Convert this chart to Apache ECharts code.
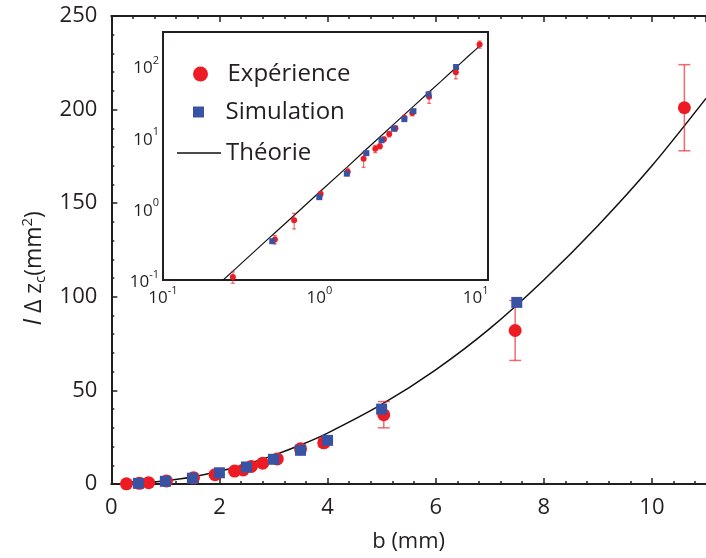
<!DOCTYPE html>
<html><head><meta charset="utf-8">
<script src="https://cdn.jsdelivr.net/npm/echarts@6.0.0/dist/echarts.min.js"></script>
<style>html,body{margin:0;padding:0;background:#fff}#c{width:706px;height:558px}</style>
</head><body><div id="c"></div>
<script>
// ---- data ----
const expB   = [0.28, 0.52, 0.69, 1.02, 1.52, 1.92, 2.28, 2.44, 2.59, 2.80, 3.07, 3.50, 3.93, 5.04, 7.47, 10.6];
const expY   = [0.11, 0.37, 0.69, 1.6,  3.3,  5.0,  6.9,  7.5,  9.4,  11.1, 13.4, 18.8, 22,   37,   82,   201];
const expErr = [0.02, 0.05, 0.17, 0.15, 0.4,  1.2,  0.8,  0.6,  0.7,  1.0,  1.2,  1.5,  2.0,  7,    16,   23];
const simB   = [0.5, 1.0, 1.5, 2.0, 2.5, 3.0, 3.5, 4.0, 5.0, 7.5];
const simY   = [0.35, 1.45, 3.1, 6.0, 9.1, 13.2, 18.0, 23.3, 40, 97];
const theoryB = [0.2, 0.3, 0.5, 0.7, 1, 1.5, 2, 2.5, 3, 3.5, 4, 5, 6, 7, 8, 9, 10, 11];
const theoryY = [0.068, 0.153, 0.425, 0.83, 1.7, 3.8, 6.8, 10.6, 15.3, 20.8, 27.2, 42.5, 61, 83, 109, 138, 170, 206];
// tick values
const mainXMinor = [0.4,0.8,1.2,1.6,2.4,2.8,3.2,3.6,4.4,4.8,5.2,5.6,6.4,6.8,7.2,7.6,8.4,8.8,9.2,9.6,10.4,10.8];
const mainYMinor = [10,20,30,40,60,70,80,90,110,120,130,140,160,170,180,190,210,220,230,240];
const insetXLabels = [0.1, 1, 10];
const insetYLabels = [0.1, 1, 10, 100];
const insetXTicks = [0.2,0.3,0.4,0.5,0.6,0.7,0.8,0.9,1,2,3,4,5,6,7,8,9,10];
const insetYTicks = [0.2,0.3,0.4,0.5,0.6,0.7,0.8,0.9,1,2,3,4,5,6,7,8,9,10,20,30,40,50,60,70,80,90,100,200];

const FONT = 'Open Sans';
const TXT = '#231f20';
const RED = '#ed1c24';
const BLUE = '#3953a4';
const ERR = 'rgba(237,28,36,0.65)';

const expData = expB.map((b, i) => [b, expY[i]]);
const errData = expB.map((b, i) => [b, expY[i] - expErr[i], expY[i] + expErr[i]]);
const simData = simB.map((b, i) => [b, simY[i]]);
const theoData = theoryB.map((b, i) => [b, theoryY[i]]);

function errRender(cap, lw) {
  return function (params, api) {
    const x = api.value(0), lo = api.value(1), hi = api.value(2);
    const p1 = api.coord([x, lo]), p2 = api.coord([x, hi]);
    const st = { stroke: ERR, lineWidth: lw };
    return { type: 'group', children: [
      { type: 'line', shape: { x1: p1[0], y1: p1[1], x2: p2[0], y2: p2[1] }, style: st },
      { type: 'line', shape: { x1: p1[0] - cap, y1: p1[1], x2: p1[0] + cap, y2: p1[1] }, style: st },
      { type: 'line', shape: { x1: p2[0] - cap, y1: p2[1], x2: p2[0] + cap, y2: p2[1] }, style: st }
    ]};
  };
}

function pow10Label(v) {
  const e = Math.round(Math.log10(v));
  return '{b|10}{s|' + e + '}';
}
const powRich = {
  b: { fontSize: 17, fontFamily: FONT, color: TXT, lineHeight: 22, verticalAlign: 'bottom' },
  s: { fontSize: 11, fontFamily: FONT, color: TXT, lineHeight: 12, verticalAlign: 'top' }
};

const lineAx = { show: true, lineStyle: { color: TXT, width: 2 } };
const noLine = { show: false };
const legText = { fontSize: 24, fontFamily: FONT, color: TXT, lineHeight: 26 };

const option = {
  backgroundColor: '#fff',
  animation: false,
  grid: [
    { left: 111.3, top: 16, width: 599.5, height: 468, show: false },
    { left: 163, top: 32, width: 325, height: 248, show: true, backgroundColor: '#fff', borderColor: TXT, borderWidth: 2, z: 5 }
  ],
  xAxis: [
    { gridIndex: 0, type: 'value', min: 0, max: 11, interval: 2, position: 'bottom',
      axisLine: lineAx, splitLine: { show: false },
      axisTick: { inside: true, length: 6, lineStyle: { color: TXT, width: 1.5 } },
      axisLabel: { fontSize: 22, fontFamily: FONT, color: TXT, margin: 13, showMaxLabel: false },
      name: 'b (mm)', nameLocation: 'middle', nameGap: 47,
      nameTextStyle: { fontSize: 22, fontFamily: FONT, color: TXT } },
    { gridIndex: 0, type: 'value', min: 0, max: 11, position: 'bottom', axisLine: noLine, splitLine: { show: false },
      axisLabel: { show: false }, axisTick: { inside: true, length: 3, customValues: mainXMinor, lineStyle: { color: TXT, width: 1.5 } } },
    { gridIndex: 0, type: 'value', min: 0, max: 11, interval: 2, position: 'top', axisLine: lineAx, splitLine: { show: false },
      axisLabel: { show: false }, axisTick: { inside: true, length: 6, lineStyle: { color: TXT, width: 1.5 } } },
    { gridIndex: 0, type: 'value', min: 0, max: 11, position: 'top', axisLine: noLine, splitLine: { show: false },
      axisLabel: { show: false }, axisTick: { inside: true, length: 3, customValues: mainXMinor, lineStyle: { color: TXT, width: 1.5 } } },
    // inset
    { gridIndex: 1, type: 'log', logBase: 10, min: 0.1, max: 12, position: 'bottom', axisLine: noLine, splitLine: { show: false },
      axisTick: { inside: true, length: 3, customValues: insetXTicks, lineStyle: { color: TXT, width: 1 } },
      axisLabel: { customValues: insetXLabels, formatter: pow10Label, rich: powRich, margin: 5 } },
    { gridIndex: 1, type: 'log', logBase: 10, min: 0.1, max: 12, position: 'top', axisLine: noLine, splitLine: { show: false },
      axisTick: { inside: true, length: 3, customValues: insetXTicks, lineStyle: { color: TXT, width: 1 } },
      axisLabel: { show: false } }
  ],
  yAxis: [
    { gridIndex: 0, type: 'value', min: 0, max: 250, interval: 50, position: 'left',
      axisLine: lineAx, splitLine: { show: false },
      axisTick: { inside: true, length: 6, lineStyle: { color: TXT, width: 1.5 } },
      axisLabel: { fontSize: 22, fontFamily: FONT, color: TXT, margin: 14 },
      name: '{i|l} Δ z{sub|c}(mm{sup|2})', nameLocation: 'middle', nameGap: 58,
      nameTextStyle: { fontSize: 23, fontFamily: FONT, color: TXT, padding: [0, 36, 0, 0],
        rich: {
          i: { fontSize: 23, fontFamily: FONT, fontStyle: 'italic', color: TXT, lineHeight: 28 },
          sub: { fontSize: 15, fontFamily: FONT, color: TXT, lineHeight: 10, verticalAlign: 'bottom' },
          sup: { fontSize: 15, fontFamily: FONT, color: TXT, lineHeight: 10, verticalAlign: 'top' }
        } } },
    { gridIndex: 0, type: 'value', min: 0, max: 250, position: 'left', axisLine: noLine, splitLine: { show: false },
      axisLabel: { show: false }, axisTick: { inside: true, length: 3, customValues: mainYMinor, lineStyle: { color: TXT, width: 1.5 } } },
    // inset
    { gridIndex: 1, type: 'log', logBase: 10, min: 0.1, max: 300, position: 'left', axisLine: noLine, splitLine: { show: false },
      axisTick: { inside: true, length: 3, customValues: insetYTicks, lineStyle: { color: TXT, width: 1 } },
      axisLabel: { customValues: insetYLabels, formatter: pow10Label, rich: powRich, margin: 4 } },
    { gridIndex: 1, type: 'log', logBase: 10, min: 0.1, max: 300, position: 'right', axisLine: noLine, splitLine: { show: false },
      axisTick: { inside: true, length: 3, customValues: insetYTicks, lineStyle: { color: TXT, width: 1 } },
      axisLabel: { show: false } }
  ],
  legend: [
    { data: [{ name: 'Expérience', icon: 'circle' }], left: 193, top: 61, padding: 0, itemWidth: 44, itemHeight: 15,
      textStyle: legText, z: 10 },
    { data: [{ name: 'Simulation', icon: 'path://M0,0L10,0L10,10L0,10Z' }], left: 193, top: 99, padding: 0, itemWidth: 44, itemHeight: 11,
      textStyle: legText, z: 10 },
    { data: [{ name: 'Théorie', icon: 'rect' }], left: 177, top: 140, padding: 0, itemWidth: 44, itemHeight: 1.5,
      textStyle: legText, z: 10 }
  ],
  series: [
    // main
    { type: 'line', name: 'Théorie', xAxisIndex: 0, yAxisIndex: 0, data: theoData, symbol: 'none', smooth: 0.3,
      lineStyle: { color: '#111', width: 1.5 }, itemStyle: { color: '#111' }, z: 2 },
    { type: 'custom', name: 'errMain', xAxisIndex: 0, yAxisIndex: 0, data: errData, renderItem: errRender(6, 1.5),
      encode: { x: 0, y: [1, 2] }, z: 3 },
    { type: 'scatter', name: 'Expérience', xAxisIndex: 0, yAxisIndex: 0, data: expData, symbol: 'circle', symbolSize: 13,
      itemStyle: { color: RED, opacity: 1 }, z: 4 },
    { type: 'scatter', name: 'Simulation', xAxisIndex: 0, yAxisIndex: 0, data: simData, symbol: 'rect', symbolSize: 11,
      itemStyle: { color: BLUE, opacity: 1 }, z: 5 },
    // inset
    { type: 'line', name: 'Théorie', xAxisIndex: 4, yAxisIndex: 2, data: theoData, symbol: 'none', clip: true,
      lineStyle: { color: '#111', width: 1.2 }, itemStyle: { color: '#111' }, z: 6 },
    { type: 'custom', name: 'errInset', xAxisIndex: 4, yAxisIndex: 2, data: errData, renderItem: errRender(2, 1.2),
      encode: { x: 0, y: [1, 2] }, z: 7 },
    { type: 'scatter', name: 'Expérience', xAxisIndex: 4, yAxisIndex: 2, data: expData, symbol: 'circle', symbolSize: 6,
      itemStyle: { color: RED, opacity: 1 }, z: 8 },
    { type: 'scatter', name: 'Simulation', xAxisIndex: 4, yAxisIndex: 2, data: simData, symbol: 'rect', symbolSize: 6,
      itemStyle: { color: BLUE, opacity: 1 }, z: 9 }
  ]
};
const chart = echarts.init(document.getElementById('c'), null, { renderer: 'canvas' });
chart.setOption(option);
</script></body></html>
